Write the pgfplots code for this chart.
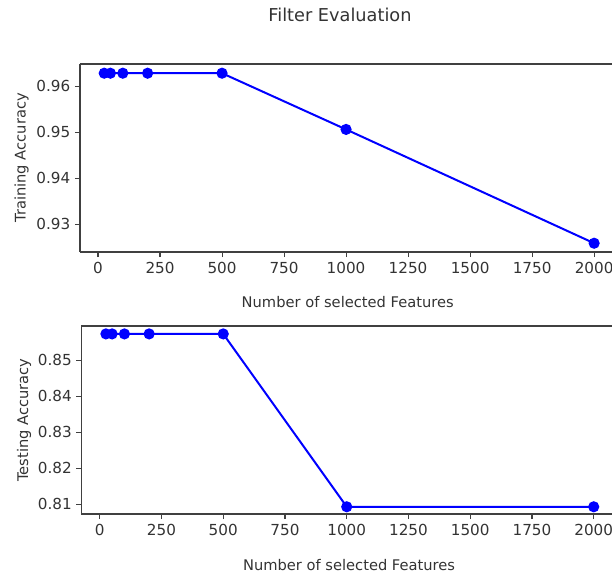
\documentclass[border=0pt]{standalone}
\usepackage{fontspec}
\setmainfont{DejaVu Sans}
\usepackage{pgfplots}
\pgfplotsset{compat=1.18}

\definecolor{spine}{gray}{0.25}
\definecolor{txt}{gray}{0.2}

\pgfplotsset{
  evalstyle/.style={
    scale only axis,
    anchor=south west,
    height=141pt,
    axis x line=box,
    axis y line=left,
    axis line style={-, spine, line width=0.8pt},
    xtick pos=bottom,
    ytick pos=left,
    tick align=outside,
    major tick length=3.8pt,
    tick style={spine, line width=0.8pt},
    xtick={0,250,500,750,1000,1250,1500,1750,2000},
    tick label style={font=\fontsize{11.4}{13}\selectfont, text=txt},
    /pgf/number format/assume math mode=true,
    xticklabel style={/pgf/number format/1000 sep={}},
    yticklabel style={/pgf/number format/.cd, fixed, fixed zerofill, precision=2},
    scaled ticks=false,
    clip=false,
  },
  evalline/.style={blue, line width=1.5pt, mark=*, mark size=3.4pt, mark options={fill=blue, draw=blue}},
}

\begin{document}
\begin{tikzpicture}[font=\fontsize{11}{13}\selectfont]
\useasboundingbox (0,0) rectangle (459pt,430.5pt);

% upper panel: training accuracy
\begin{axis}[evalstyle,
  at={(60pt,241.5pt)}, width=399pt,
  xmin=-72.6, xmax=2072,
  ymin=0.924, ymax=0.9648,
  ytick={0.93,0.94,0.95,0.96},
]
\addplot[evalline] coordinates {
  (25,0.9628) (50,0.9628) (100,0.9628) (200,0.9628) (500,0.9628) (1000,0.9506) (2000,0.9259)
};
\end{axis}

% lower panel: testing accuracy
\begin{axis}[evalstyle,
  at={(61.1pt,45pt)}, width=397.9pt,
  xmin=-74, xmax=2074,
  ymin=0.8073, ymax=0.8595,
  ytick={0.81,0.82,0.83,0.84,0.85},
]
\addplot[evalline] coordinates {
  (25,0.8573) (50,0.8573) (100,0.8573) (200,0.8573) (500,0.8573) (1000,0.8093) (2000,0.8093)
};
\end{axis}

\node[text=txt, font=\fontsize{13.3}{15}\selectfont] at (255pt,419.25pt) {Filter Evaluation};
\node[text=txt] at (260.8pt,204.2pt) {Number of selected Features};
\node[text=txt] at (261.8pt,6.75pt) {Number of selected Features};
\node[text=txt, rotate=90] at (16.1pt,312pt) {Training Accuracy};
\node[text=txt, rotate=90] at (18pt,115.5pt) {Testing Accuracy};
\end{tikzpicture}
\end{document}
